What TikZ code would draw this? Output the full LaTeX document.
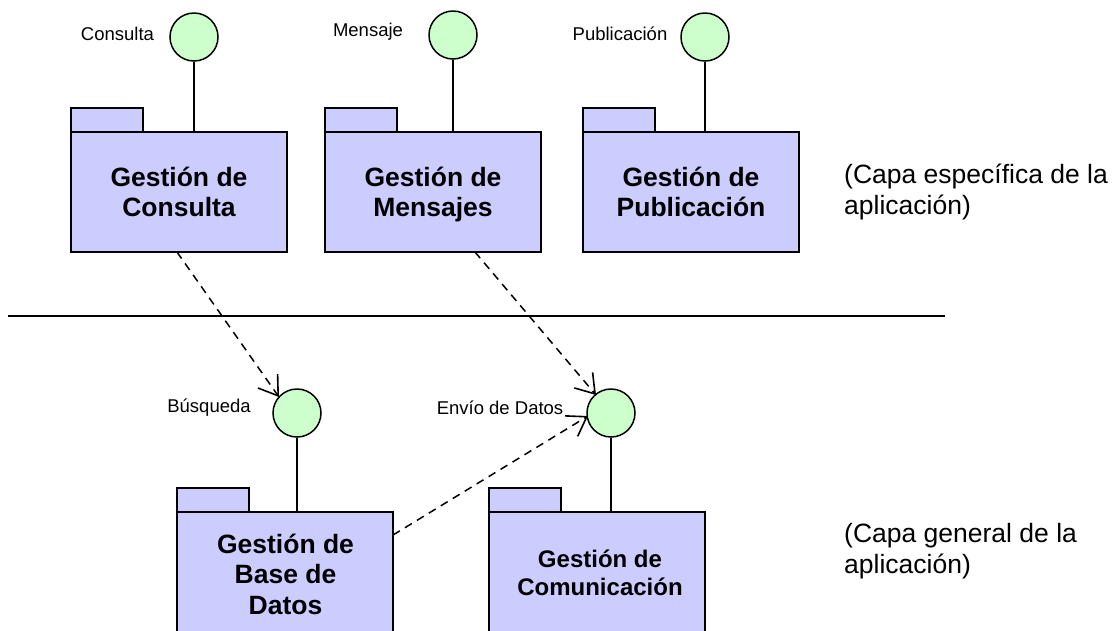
\documentclass[tikz,border=0pt]{standalone}
\usepackage{fontspec}
\setmainfont{Liberation Sans}
\usetikzlibrary{arrows.meta}
\definecolor{pkgfill}{HTML}{CCCCFF}
\definecolor{ifacefill}{HTML}{CCFFCC}
\tikzset{
  pkgbody/.style={draw=black,line width=1.5pt,fill=pkgfill,minimum width=216pt,minimum height=120pt,inner sep=0pt,align=center,text depth=0pt,font=\fontsize{26.5}{30.5}\selectfont\bfseries},
  pkgtab/.style={draw=black,line width=1.5pt,fill=pkgfill,minimum width=72pt,minimum height=24pt,inner sep=0pt},
  iface/.style={draw=black,line width=1.5pt,fill=ifacefill,circle,minimum size=48pt,inner sep=0pt},
  lollipop/.style={draw=black,line width=1.5pt},
  depend/.style={draw=black,line width=1.5pt,dash pattern=on 8pt off 6pt,-{Straight Barb[length=18pt,width=24pt,line width=1.6pt]}},
  smalllabel/.style={inner sep=0pt,font=\fontsize{18.5}{22}\selectfont},
  layerlabel/.style={inner sep=0pt,align=left,anchor=west,font=\fontsize{26.5}{31}\selectfont},
}
\begin{document}
\begin{tikzpicture}[x=1pt,y=-1pt]
\useasboundingbox (0,0) rectangle (1114,630);
% upper packages
\node[pkgtab] (t1) at (107,120) {};
\node[pkgtab] (t2) at (361,120) {};
\node[pkgtab] (t3) at (619,120) {};
\node[pkgbody] (p1) at (179,192) {Gestión de\\Consulta};
\node[pkgbody] (p2) at (433,192) {Gestión de\\Mensajes};
\node[pkgbody] (p3) at (691,192) {Gestión de\\Publicación};
\node[iface] (c1) at (194,37) {};
\node[iface] (c2) at (453,35) {};
\node[iface] (c3) at (705,37) {};
\draw[lollipop] (c1) -- (c1 |- p1.north);
\draw[lollipop] (c2) -- (c2 |- p2.north);
\draw[lollipop] (c3) -- (c3 |- p3.north);
\node[smalllabel] (l1) at (117.5,34) {Consulta};
\node[smalllabel] (l2) at (368,32) {Mensaje};
\node[smalllabel] (l3) at (620,34) {Publicación};
\node[layerlabel] (n1) at (844,192) {(Capa específica de la\\aplicación)};
% divider
\coordinate (dl) at (8,316);
\coordinate (dr) at (945,316);
\draw[lollipop] (dl) -- (dr);
% lower packages
\node[pkgtab] (t4) at (213,500) {};
\node[pkgtab] (t5) at (525,500) {};
\node[pkgbody] (p4) at (285,572) {};
\node[pkgbody] (p5) at (597,572) {};
\node[align=center,inner sep=0pt,text depth=0pt,font=\fontsize{26.5}{30.5}\selectfont\bfseries] (x4) at (285.5,574) {Gestión de\\Base de\\Datos};
\node[align=center,inner sep=0pt,text depth=0pt,font=\fontsize{24}{27.5}\selectfont\bfseries] (x5) at (600,572.5) {Gestión de\\Comunicación};
\node[iface] (c4) at (297,413) {};
\node[iface] (c5) at (611,413) {};
\draw[lollipop] (c4) -- (c4 |- p4.north);
\draw[lollipop] (c5) -- (c5 |- p5.north);
\node[smalllabel] (l4) at (209,408) {Búsqueda};
\node[smalllabel] (l5) at (500,408) {Envío de Datos};
\node[layerlabel] (n2) at (844,551) {(Capa general de la\\aplicación)};
% dependencies
\coordinate (d1s) at (177,252);
\coordinate (d1e) at (279,397);
\coordinate (d2s) at (475,252);
\coordinate (d2e) at (596,395);
\coordinate (d3s) at (393,535);
\coordinate (d3e) at (588,416);
\draw[depend] (d1s) -- (d1e);
\draw[depend] (d2s) -- (d2e);
\draw[depend] (d3s) -- (d3e);
\end{tikzpicture}
\end{document}
